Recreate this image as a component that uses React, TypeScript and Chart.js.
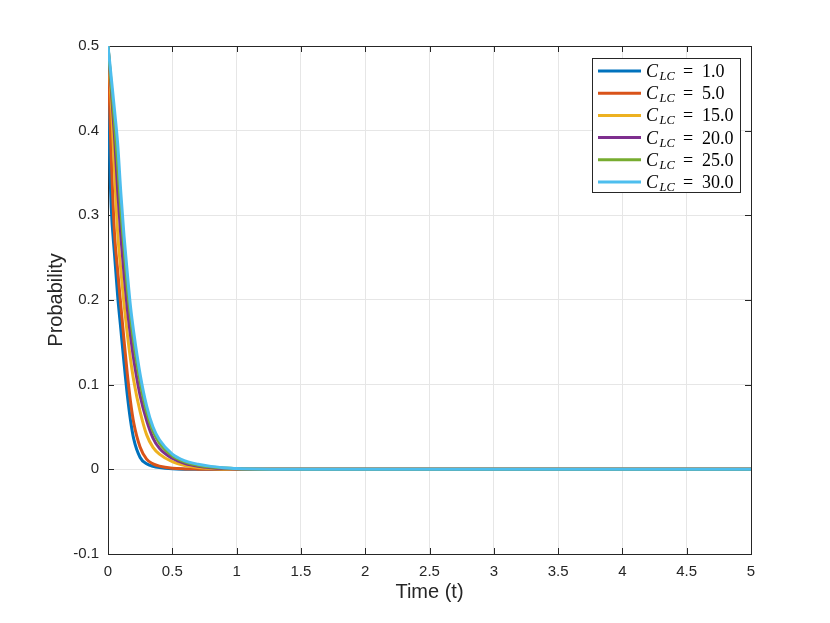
import React, { useEffect, useRef } from 'react';
import { Chart, registerables } from 'chart.js';
import type { ChartConfiguration, Plugin } from 'chart.js';

Chart.register(...registerables);

// time grid (t) shared by every curve
const times = [0, 0.0125, 0.025, 0.05, 0.075, 0.1, 0.125, 0.15, 0.175, 0.2, 0.25, 0.3, 0.35, 0.4, 0.5, 0.6, 0.7, 0.8, 0.9, 1.0, 1.5, 5];

// probability, one array per C_LC
const probC1 = [0.5, 0.37, 0.31, 0.255, 0.205, 0.165, 0.125, 0.088, 0.058, 0.036, 0.014, 0.0065, 0.0035, 0.002, 0.0006, 0.0002, 0.0001, 0, 0, 0, 0, 0];
const probC5 = [0.5, 0.43, 0.37, 0.28, 0.235, 0.193, 0.152, 0.113, 0.08, 0.055, 0.026, 0.012, 0.0065, 0.0038, 0.0013, 0.0005, 0.0002, 0, 0, 0, 0, 0];
const probC15 = [0.5, 0.47, 0.435, 0.355, 0.28, 0.235, 0.195, 0.16, 0.13, 0.105, 0.068, 0.041, 0.026, 0.018, 0.009, 0.0045, 0.0022, 0.0011, 0.0005, 0.0002, 0, 0];
const probC20 = [0.5, 0.475, 0.45, 0.395, 0.33, 0.275, 0.23, 0.19, 0.158, 0.13, 0.087, 0.058, 0.037, 0.025, 0.013, 0.0068, 0.0036, 0.0019, 0.001, 0.0005, 0, 0];
const probC25 = [0.5, 0.478, 0.455, 0.41, 0.36, 0.305, 0.26, 0.215, 0.18, 0.15, 0.103, 0.068, 0.045, 0.031, 0.016, 0.0085, 0.0048, 0.0027, 0.0015, 0.0008, 0.0001, 0];
const probC30 = [0.5, 0.482, 0.463, 0.425, 0.385, 0.326, 0.275, 0.232, 0.192, 0.162, 0.112, 0.075, 0.05, 0.035, 0.018, 0.01, 0.006, 0.0035, 0.002, 0.001, 0.0001, 0];

const seriesValues = [probC1, probC5, probC15, probC20, probC25, probC30];
const seriesLabels = ['1.0', '5.0', '15.0', '20.0', '25.0', '30.0'];
const seriesColors = ['#0072BD', '#D95319', '#EDB120', '#7E2F8E', '#77AC30', '#4DBEEE'];

const xTicks = [0, 0.5, 1, 1.5, 2, 2.5, 3, 3.5, 4, 4.5, 5];
const yTicks = [-0.1, 0, 0.1, 0.2, 0.3, 0.4, 0.5];

const AXIS = '#262626';
const SANS = '"Liberation Sans", Arial, Helvetica, sans-serif';
const SERIF = '"Liberation Serif", "Times New Roman", serif';

const fmt = (v: number) => String(Math.round(v * 10) / 10);

// box around the axes with inward tick marks (MATLAB look)
const boxPlugin: Plugin = {
  id: 'matlabBox',
  beforeDatasetsDraw(chart) {
    const { ctx, chartArea: a, scales } = chart;
    const tl = 6;
    ctx.save();
    ctx.strokeStyle = AXIS;
    ctx.lineWidth = 1;
    ctx.beginPath();
    xTicks.forEach((v) => {
      const x = Math.round(scales.x.getPixelForValue(v)) + 0.5;
      ctx.moveTo(x, a.bottom);
      ctx.lineTo(x, a.bottom - tl);
      ctx.moveTo(x, a.top);
      ctx.lineTo(x, a.top + tl);
    });
    yTicks.forEach((v) => {
      const y = Math.round(scales.y.getPixelForValue(v)) + 0.5;
      ctx.moveTo(a.left, y);
      ctx.lineTo(a.left + tl, y);
      ctx.moveTo(a.right, y);
      ctx.lineTo(a.right - tl, y);
    });
    ctx.stroke();
    ctx.strokeRect(Math.round(a.left) + 0.5, Math.round(a.top) + 0.5, Math.round(a.width), Math.round(a.height));
    ctx.restore();
  },
};

// legend box with C_LC subscripts
const legendPlugin: Plugin = {
  id: 'latexLegend',
  afterDraw(chart) {
    const { ctx } = chart;
    const left = 592, top = 58, right = 740, bottom = 192;
    ctx.save();
    ctx.fillStyle = '#ffffff';
    ctx.fillRect(left, top, right - left, bottom - top);
    ctx.strokeStyle = AXIS;
    ctx.lineWidth = 1;
    ctx.strokeRect(left + 0.5, top + 0.5, right - left, bottom - top);
    seriesLabels.forEach((lab, i) => {
      const cy = 71 + i * 22.2;
      ctx.strokeStyle = seriesColors[i];
      ctx.lineWidth = 3;
      ctx.beginPath();
      ctx.moveTo(598, cy);
      ctx.lineTo(641, cy);
      ctx.stroke();
      ctx.fillStyle = '#000000';
      ctx.textBaseline = 'alphabetic';
      ctx.textAlign = 'left';
      ctx.font = `italic 18px ${SERIF}`;
      ctx.fillText('C', 646, cy + 6);
      ctx.font = `italic 12.5px ${SERIF}`;
      ctx.fillText('LC', 659.5, cy + 9);
      ctx.font = `18px ${SERIF}`;
      ctx.fillText('=', 683, cy + 6);
      ctx.fillText(lab, 702, cy + 6);
    });
    ctx.restore();
  },
};

const App: React.FC = () => {
  const chartRef = useRef<HTMLCanvasElement>(null);
  const chartInstanceRef = useRef<Chart | null>(null);

  useEffect(() => {
    document.body.style.margin = '0';
    if (!chartRef.current) return;
    if (chartInstanceRef.current) chartInstanceRef.current.destroy();
    const ctx = chartRef.current.getContext('2d');
    if (!ctx) return;

    const config: ChartConfiguration = {
      type: 'line',
      data: {
        datasets: seriesValues.map((vals, i) => ({
          label: 'C_LC = ' + seriesLabels[i],
          data: times.map((t, j) => ({ x: t, y: vals[j] })),
          borderColor: seriesColors[i],
          backgroundColor: seriesColors[i],
          borderWidth: 3,
          pointRadius: 0,
          fill: false,
          cubicInterpolationMode: 'monotone' as const,
          order: seriesValues.length - i,
        })),
      },
      options: {
        responsive: false,
        animation: false,
        layout: { padding: { top: 46, right: 79, left: 0, bottom: 0 } },
        plugins: {
          legend: { display: false },
          tooltip: { enabled: false },
        },
        scales: {
          x: {
            type: 'linear',
            min: 0,
            max: 5,
            afterBuildTicks: (s: any) => {
              s.ticks = xTicks.map((value) => ({ value }));
            },
            afterFit: (s: any) => {
              s.height = 69;
            },
            grid: { color: '#e6e6e6', drawTicks: false },
            border: { display: false },
            ticks: {
              padding: 9,
              color: AXIS,
              font: { family: SANS, size: 15 },
              maxRotation: 0,
              callback: (v: any) => fmt(Number(v)),
            },
            title: {
              display: true,
              text: 'Time (t)',
              color: AXIS,
              font: { family: SANS, size: 20 },
              padding: { top: 0, bottom: 19 },
            },
          },
          y: {
            type: 'linear',
            min: -0.1,
            max: 0.5,
            afterBuildTicks: (s: any) => {
              s.ticks = yTicks.map((value) => ({ value }));
            },
            afterFit: (s: any) => {
              s.width = 108;
            },
            grid: { color: '#e6e6e6', drawTicks: false },
            border: { display: false },
            ticks: {
              padding: 9,
              color: AXIS,
              font: { family: SANS, size: 15 },
              callback: (v: any) => fmt(Number(v)),
            },
            title: {
              display: true,
              text: 'Probability',
              color: AXIS,
              font: { family: SANS, size: 20 },
              padding: { top: 44, bottom: 0 },
            },
          },
        },
      },
      plugins: [boxPlugin, legendPlugin],
    };

    chartInstanceRef.current = new Chart(ctx, config);

    return () => {
      if (chartInstanceRef.current) {
        chartInstanceRef.current.destroy();
        chartInstanceRef.current = null;
      }
    };
  }, []);

  return (
    <div style={{ width: 830, height: 623, background: '#ffffff' }}>
      <canvas ref={chartRef} width={830} height={623}></canvas>
    </div>
  );
};

export default App;
